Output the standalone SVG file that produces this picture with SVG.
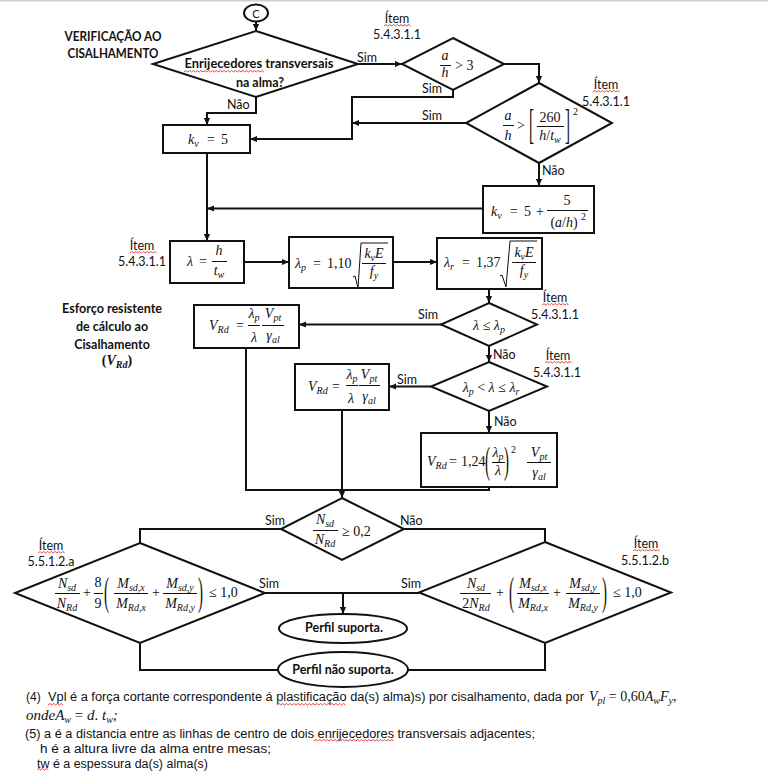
<svg xmlns="http://www.w3.org/2000/svg" width="768" height="771" viewBox="0 0 768 771">
<defs>
<marker id="ah" viewBox="0 0 8 8" refX="8" refY="4" markerWidth="7" markerHeight="7" markerUnits="userSpaceOnUse" orient="auto"><path d="M0,0.5 L8,4 L0,7.5 z" fill="#111"/></marker>
<path id="sq7" d="M0,0 l1.9,-1.5 l1.9,1.5 l1.9,-1.5 l1.9,1.5 l1.9,-1.5 l1.9,1.5 l1.9,-1.5 l1.9,1.5 l1.9,-1.5 l1.9,1.5 l1.9,-1.5 l1.9,1.5 l1.9,-1.5 l1.9,1.5"/>
<path id="sq4" d="M0,0 l1.9,-1.5 l1.9,1.5 l1.9,-1.5 l1.9,1.5 l1.9,-1.5 l1.9,1.5 l1.9,-1.5 l1.9,1.5"/>
<path id="sq3" d="M0,0 l1.9,-1.5 l1.9,1.5 l1.9,-1.5 l1.9,1.5 l1.9,-1.5 l1.9,1.5"/>
</defs>
<style>
.shape{fill:#fff;stroke:#111;stroke-width:2}
.conn{fill:none;stroke:#111;stroke-width:2}
.arr{marker-end:url(#ah)}
.t{font-family:Lato,"Liberation Sans",sans-serif;font-size:12.5px;fill:#111}
.fn{font-family:"Liberation Sans",Arial,sans-serif;font-size:12px;fill:#111}
.b{font-weight:bold}
.c{text-anchor:middle}
.mi{font-family:"Liberation Serif","DejaVu Serif",serif;font-style:italic;font-size:14px;fill:#111}
.mu{font-family:"Liberation Serif","DejaVu Serif",serif;font-size:14px;fill:#111}
.s{font-size:10px}
.sup{font-size:10px}
.dl{font-size:15px}
.bar{stroke:#111;stroke-width:1}
.rad{fill:none;stroke:#111;stroke-width:1}
.spell use,.spell{fill:none;stroke:#e04848;stroke-width:1}
</style>
<rect width="768" height="771" fill="#fff"/>
<line x1="0" y1="0.75" x2="768" y2="0.75" stroke="#cfcfcf" stroke-width="1.5"/>

<g id="titles">
<text class="t b c" x="113" y="41" textLength="97" lengthAdjust="spacingAndGlyphs">VERIFICAÇÃO AO</text>
<text class="t b c" x="113" y="58" textLength="91" lengthAdjust="spacingAndGlyphs">CISALHAMENTO</text>
<text class="t b c" x="112" y="313" textLength="100" lengthAdjust="spacingAndGlyphs">Esforço resistente</text>
<text class="t b c" x="112" y="331">de cálculo ao</text>
<text class="t b c" x="112" y="349">Cisalhamento</text>
<text class="mu c" x="117" y="365" font-weight="bold">(<tspan font-style="italic">V</tspan><tspan font-style="italic" class="s" dy="3">Rd</tspan><tspan dy="-3">)</tspan></text>
</g>

<g id="connectors">
<path class="conn arr" d="M256,21 V31"/>
<path class="conn arr" d="M358,64 H402"/>
<path class="conn arr" d="M504,64 H539 V83"/>
<path class="conn arr" d="M453,90 V97 H352 V139 H250"/>
<path class="conn arr" d="M466,123 H352"/>
<path class="conn arr" d="M256,97 V113 H207 V125"/>
<path class="conn arr" d="M539,163 V186"/>
<path class="conn arr" d="M483,208.5 H207"/>
<path class="conn arr" d="M207,153 V241"/>
<path class="conn arr" d="M244,262 H289"/>
<path class="conn arr" d="M393,262 H437"/>
<path class="conn arr" d="M489,289 V303"/>
<path class="conn arr" d="M441,324.5 H299"/>
<path class="conn arr" d="M489,346 V362"/>
<path class="conn arr" d="M431,386.5 H389"/>
<path class="conn arr" d="M489,411 V433"/>
<path class="conn" d="M246,348 V490 H489 V487"/>
<path class="conn arr" d="M342,410 V498"/>
<path class="conn" d="M281,529 H140 V543"/>
<path class="conn" d="M404,529 H545 V542"/>
<path class="conn" d="M265,593 H419"/>
<path class="conn arr" d="M343,593 V614"/>
<path class="conn" d="M140,643 V670 H278"/>
<path class="conn" d="M545,643 V670 H408"/>
<text class="t" x="357" y="62">Sim</text>
<text class="t" x="422" y="93">Sim</text>
<text class="t" x="422" y="120">Sim</text>
<text class="t" x="227" y="109">Não</text>
<text class="t" x="542" y="175">Não</text>
<text class="t" x="418" y="319">Sim</text>
<text class="t" x="493" y="359">Não</text>
<text class="t" x="397" y="384">Sim</text>
<text class="t" x="494" y="426">Não</text>
<text class="t" x="265" y="525">Sim</text>
<text class="t" x="400" y="525">Não</text>
<text class="t" x="259" y="588">Sim</text>
<text class="t" x="401" y="588">Sim</text>
</g>

<g id="annotations">
<text class="t c" x="397" y="23">Ítem</text><text class="t c" x="397" y="39">5.4.3.1.1</text>
<text class="t c" x="606" y="89">Ítem</text><text class="t c" x="606" y="106">5.4.3.1.1</text>
<text class="t c" x="142" y="250">Ítem</text><text class="t c" x="142" y="266">5.4.3.1.1</text>
<text class="t c" x="555" y="302">Ítem</text><text class="t c" x="555" y="319">5.4.3.1.1</text>
<text class="t c" x="558" y="360">Ítem</text><text class="t c" x="557" y="377">5.4.3.1.1</text>
<text class="t c" x="51" y="550">Ítem</text><text class="t c" x="51" y="566">5.5.1.2.a</text>
<text class="t c" x="646" y="548">Ítem</text><text class="t c" x="645" y="565">5.5.1.2.b</text>
</g>

<g id="n-start">
<ellipse class="shape" cx="256" cy="13" rx="12" ry="8.5"/>
<text class="t c" x="256" y="17.5" style="font-size:11px">C</text>
</g>

<g id="n-d1">
<polygon class="shape" points="256,31 358,64 256,97 153,64"/>
<text class="t b c" x="259" y="68" textLength="149" lengthAdjust="spacingAndGlyphs">Enrijecedores transversais</text>
<text class="t b c" x="260" y="87">na alma?</text>
</g>

<g id="n-d2">
<polygon class="shape" points="453,38 504,64 453,90 402,64"/>
<text class="mi c" x="445" y="60">a</text>
<line class="bar" x1="440" y1="65.5" x2="451" y2="65.5"/>
<text class="mi c" x="445" y="77">h</text>
<text class="mu" x="455" y="70">&gt; 3</text>
</g>

<g id="n-d3">
<polygon class="shape" points="539,83 612,123 539,163 466,123"/>
<text class="mi c" x="508" y="120">a</text>
<line class="bar" x1="503" y1="125.5" x2="514" y2="125.5"/>
<text class="mi c" x="508" y="140">h</text>
<text class="mu" x="517" y="130">&gt;</text>
<text class="mu dl" transform="translate(529,138.3) scale(1,2.8)">[</text>
<text class="mu c" x="550" y="122">260</text>
<line class="bar" x1="537" y1="126.5" x2="564" y2="126.5"/>
<text class="mi c" x="550" y="140">h<tspan font-style="normal">/</tspan>t<tspan class="s" dy="3">w</tspan></text>
<text class="mu dl" transform="translate(565,138.3) scale(1,2.8)">]</text>
<text class="mu sup" x="573" y="115">2</text>
</g>

<g id="n-kv5">
<rect class="shape" x="163" y="125" width="87" height="28"/>
<text class="mi" x="188" y="144">k<tspan class="s" dy="3">v</tspan></text>
<text class="mu" x="207" y="144">=</text>
<text class="mu" x="221" y="144">5</text>
</g>

<g id="n-kvf">
<rect class="shape" x="483" y="186" width="111" height="47"/>
<text class="mi" x="491" y="216">k<tspan class="s" dy="3">v</tspan></text>
<text class="mu" x="510" y="216">=</text>
<text class="mu" x="524" y="216">5</text>
<text class="mu" x="536" y="216">+</text>
<text class="mu c" x="567" y="205">5</text>
<line class="bar" x1="547" y1="210.5" x2="588" y2="210.5"/>
<text class="mi c" x="564" y="227"><tspan font-style="normal">(</tspan>a<tspan font-style="normal">/</tspan>h<tspan font-style="normal">)</tspan></text>
<text class="mu sup" x="581" y="220">2</text>
</g>

<g id="n-lambda">
<rect class="shape" x="170" y="241" width="74" height="42"/>
<text class="mi" x="187" y="266">λ</text>
<text class="mu" x="199" y="266">=</text>
<text class="mi c" x="219" y="255">h</text>
<line class="bar" x1="212" y1="261.5" x2="227" y2="261.5"/>
<text class="mi c" x="219" y="275">t<tspan class="s" dy="3">w</tspan></text>
</g>

<g id="n-lp">
<rect class="shape" x="289" y="237" width="104" height="51"/>
<text class="mi" x="295" y="268">λ<tspan class="s" dy="3">p</tspan></text>
<text class="mu" x="313" y="268">=</text>
<text class="mu" x="327" y="268">1,10</text>
<polyline class="rad" points="353,277 355,276 358,288 361,243 388,243"/>
<text class="mi c" x="374" y="258">k<tspan class="s" dy="3">v</tspan><tspan dy="-3">E</tspan></text>
<line class="bar" x1="362" y1="263.5" x2="386" y2="263.5"/>
<text class="mi c" x="374" y="276">f<tspan class="s" dy="3">y</tspan></text>
</g>

<g id="n-lr">
<rect class="shape" x="437" y="238" width="105" height="51"/>
<text class="mi" x="444" y="267">λ<tspan class="s" dy="3">r</tspan></text>
<text class="mu" x="462" y="267">=</text>
<text class="mu" x="476" y="267">1,37</text>
<polyline class="rad" points="500,276 502,275 506,287 510,241 537,241"/>
<text class="mi c" x="524" y="257">k<tspan class="s" dy="3">v</tspan><tspan dy="-3">E</tspan></text>
<line class="bar" x1="512" y1="262.5" x2="536" y2="262.5"/>
<text class="mi c" x="524" y="275">f<tspan class="s" dy="3">y</tspan></text>
</g>

<g id="n-d4">
<polygon class="shape" points="489,303 537,324.5 489,346 441,324.5"/>
<text class="mi c" x="489" y="330">λ <tspan font-style="normal">≤</tspan> λ<tspan class="s" dy="3">p</tspan></text>
</g>

<g id="n-vrd1">
<rect class="shape" x="194" y="305" width="105" height="43"/>
<text class="mi" x="209" y="330">V<tspan class="s" dy="3">Rd</tspan></text>
<text class="mu" x="236" y="330">=</text>
<text class="mi c" x="254" y="318">λ<tspan class="s" dy="3">p</tspan></text>
<line class="bar" x1="248" y1="325.5" x2="260" y2="325.5"/>
<text class="mi c" x="254" y="342">λ</text>
<text class="mi c" x="273" y="318">V<tspan class="s" dy="3">pt</tspan></text>
<line class="bar" x1="262" y1="325.5" x2="284" y2="325.5"/>
<text class="mi c" x="273" y="340">γ<tspan class="s" dy="3">al</tspan></text>
</g>

<g id="n-d5">
<polygon class="shape" points="489,362 547,386.5 489,411 431,386.5"/>
<text class="mi c" x="491" y="392">λ<tspan class="s" dy="3">p</tspan><tspan dy="-3" font-style="normal"> &lt; </tspan>λ<tspan font-style="normal"> ≤ </tspan>λ<tspan class="s" dy="3">r</tspan></text>
</g>

<g id="n-vrd2">
<rect class="shape" x="295" y="364" width="94" height="46"/>
<text class="mi" x="308" y="391">V<tspan class="s" dy="3">Rd</tspan></text>
<text class="mu" x="332" y="391">=</text>
<text class="mi c" x="352" y="379">λ<tspan class="s" dy="3">p</tspan></text>
<line class="bar" x1="346" y1="385.5" x2="358" y2="385.5"/>
<text class="mi c" x="351" y="403">λ</text>
<text class="mi c" x="369" y="379">V<tspan class="s" dy="3">pt</tspan></text>
<line class="bar" x1="359" y1="385.5" x2="380" y2="385.5"/>
<text class="mi c" x="369" y="401">γ<tspan class="s" dy="3">al</tspan></text>
</g>

<g id="n-vrd3">
<rect class="shape" x="421" y="433" width="136" height="54"/>
<text class="mi" x="427" y="466">V<tspan class="s" dy="3">Rd</tspan></text>
<text class="mu" x="449" y="466">=</text>
<text class="mu" x="461" y="466">1,24</text>
<text class="mu dl" transform="translate(485,473.3) scale(1,2.5)">(</text>
<text class="mi c" x="498" y="457">λ<tspan class="s" dy="3">p</tspan></text>
<line class="bar" x1="492" y1="462.5" x2="505" y2="462.5"/>
<text class="mi c" x="498" y="475">λ</text>
<text class="mu dl" transform="translate(504,473.3) scale(1,2.5)">)</text>
<text class="mu sup" x="511" y="453">2</text>
<text class="mi c" x="539" y="457">V<tspan class="s" dy="3">pt</tspan></text>
<line class="bar" x1="527" y1="462.5" x2="551" y2="462.5"/>
<text class="mi c" x="539" y="477">γ<tspan class="s" dy="3">al</tspan></text>
</g>

<g id="n-d6">
<polygon class="shape" points="342,498 404,529 342,560 281,529"/>
<text class="mi c" x="325" y="524">N<tspan class="s" dy="3">sd</tspan></text>
<line class="bar" x1="313" y1="530.5" x2="338" y2="530.5"/>
<text class="mi c" x="325" y="544">N<tspan class="s" dy="3">Rd</tspan></text>
<text class="mu" x="342" y="536">≥ 0,2</text>
</g>

<g id="n-da">
<polygon class="shape" points="140,543 265,593 140,643 15,593"/>
<text class="mi c" x="67" y="588">N<tspan class="s" dy="3">sd</tspan></text>
<line class="bar" x1="55" y1="593.5" x2="80" y2="593.5"/>
<text class="mi c" x="67" y="608">N<tspan class="s" dy="3">Rd</tspan></text>
<text class="mu" x="83" y="597">+</text>
<text class="mu c" x="98" y="587">8</text>
<line class="bar" x1="94" y1="593.5" x2="103" y2="593.5"/>
<text class="mu c" x="98" y="608">9</text>
<text class="mu dl" transform="translate(104,604.7) scale(1,2.7)">(</text>
<text class="mi c" x="131" y="588">M<tspan class="s" dy="3">sd,x</tspan></text>
<line class="bar" x1="114" y1="593.5" x2="148" y2="593.5"/>
<text class="mi c" x="131" y="608">M<tspan class="s" dy="3">Rd,x</tspan></text>
<text class="mu" x="152" y="597">+</text>
<text class="mi c" x="180" y="588">M<tspan class="s" dy="3">sd,y</tspan></text>
<line class="bar" x1="163" y1="593.5" x2="197" y2="593.5"/>
<text class="mi c" x="180" y="608">M<tspan class="s" dy="3">Rd,y</tspan></text>
<text class="mu dl" transform="translate(198,604.7) scale(1,2.7)">)</text>
<text class="mu" x="209" y="597">≤ 1,0</text>
</g>

<g id="n-db">
<polygon class="shape" points="545,542 671,592.5 545,643 419,592.5"/>
<text class="mi c" x="476" y="588">N<tspan class="s" dy="3">sd</tspan></text>
<line class="bar" x1="460" y1="593.5" x2="491" y2="593.5"/>
<text class="mi c" x="476" y="608"><tspan font-style="normal">2</tspan>N<tspan class="s" dy="3">Rd</tspan></text>
<text class="mu" x="496" y="597">+</text>
<text class="mu dl" transform="translate(509,604.7) scale(1,2.7)">(</text>
<text class="mi c" x="533" y="588">M<tspan class="s" dy="3">sd,x</tspan></text>
<line class="bar" x1="517" y1="593.5" x2="549" y2="593.5"/>
<text class="mi c" x="533" y="608">M<tspan class="s" dy="3">Rd,x</tspan></text>
<text class="mu" x="553" y="597">+</text>
<text class="mi c" x="583" y="588">M<tspan class="s" dy="3">sd,y</tspan></text>
<line class="bar" x1="566" y1="593.5" x2="600" y2="593.5"/>
<text class="mi c" x="583" y="608">M<tspan class="s" dy="3">Rd,y</tspan></text>
<text class="mu dl" transform="translate(602,604.7) scale(1,2.7)">)</text>
<text class="mu" x="613" y="597">≤ 1,0</text>
</g>

<g id="n-ok">
<ellipse class="shape" cx="343" cy="628.5" rx="64" ry="14.5"/>
<text class="t b c" x="344" y="632">Perfil suporta.</text>
</g>

<g id="n-nok">
<ellipse class="shape" cx="343" cy="669.5" rx="65" ry="17.5"/>
<text class="t b c" x="343" y="674">Perfil não suporta.</text>
</g>

<g id="notes">
<text class="fn" x="26" y="701">(4)</text>
<text class="fn" x="48" y="701" textLength="536" lengthAdjust="spacingAndGlyphs">Vpl é a força cortante correspondente á plastificação da(s) alma)s) por cisalhamento, dada por</text>
<text class="mi" x="589" y="701">V<tspan class="s" dy="3">pl</tspan><tspan dy="-3" font-style="normal"> = 0,60</tspan>A<tspan class="s" dy="3">w</tspan><tspan dy="-3">F</tspan><tspan class="s" dy="3">y</tspan><tspan dy="-3" font-style="normal">,</tspan></text>
<text class="mi" x="26" y="720" style="font-size:15px">ondeA<tspan class="s" dy="3">w</tspan><tspan dy="-3" font-style="normal"> = </tspan>d<tspan font-style="normal">. </tspan>t<tspan class="s" dy="3">w</tspan><tspan dy="-3">;</tspan></text>
<text class="fn" x="25" y="738" textLength="510" lengthAdjust="spacingAndGlyphs">(5) a é a distancia entre as linhas de centro de dois enrijecedores transversais adjacentes;</text>
<text class="fn" x="40" y="753" textLength="231" lengthAdjust="spacingAndGlyphs">h é a altura livre da alma entre mesas;</text>
<text class="fn" x="37" y="768" textLength="171" lengthAdjust="spacingAndGlyphs">tw é a espessura da(s) alma(s)</text>
</g>

<g id="spellcheck" class="spell">
<use href="#sq7" x="184" y="72"/><use href="#sq7" x="210.6" y="72"/><use href="#sq7" x="237.2" y="72"/>
<use href="#sq7" x="384" y="26"/>
<use href="#sq7" x="593" y="92"/>
<use href="#sq7" x="130" y="253"/>
<use href="#sq7" x="542" y="305"/>
<use href="#sq7" x="545" y="363"/>
<use href="#sq7" x="38" y="553"/>
<use href="#sq7" x="633" y="551"/>
<use href="#sq4" x="48" y="705"/>
<use href="#sq7" x="277" y="705"/><use href="#sq7" x="303.6" y="705"/><use href="#sq4" x="330.2" y="705"/>
<use href="#sq7" x="314" y="741"/><use href="#sq7" x="340.6" y="741"/><use href="#sq7" x="367.2" y="741"/>
<use href="#sq3" x="37" y="770"/>
</g>
</svg>
